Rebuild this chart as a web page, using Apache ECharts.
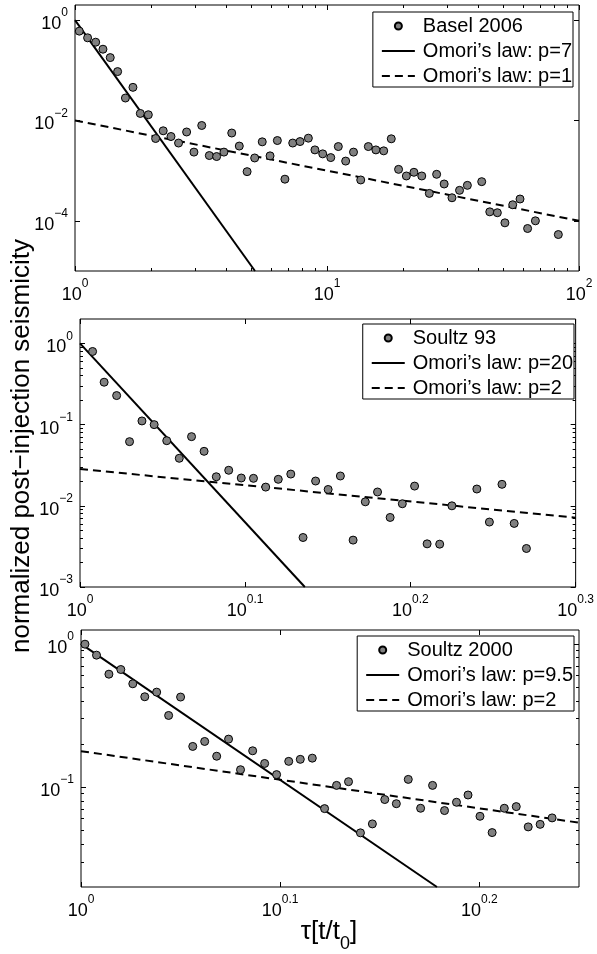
<!DOCTYPE html>
<html>
<head>
<meta charset="utf-8">
<script src="https://cdn.jsdelivr.net/npm/echarts@6/dist/echarts.min.js"></script>
<style>
  html, body { margin: 0; padding: 0; background: #fff; }
  #chart { width: 597px; height: 954px; }
</style>
</head>
<body>
<div id="chart"></div>
<script>
// Basel 2006
var baselX = [1.040, 1.122, 1.208, 1.291, 1.380, 1.476, 1.585, 1.698, 1.816, 1.954,
  2.089, 2.239, 2.404, 2.576, 2.773, 2.965, 3.184, 3.412, 3.648, 3.899,
  4.188, 4.487, 4.819, 5.164, 5.534, 5.943, 6.353, 6.808, 7.311, 7.816,
  8.433, 8.954, 9.616, 10.35, 11.09, 11.86, 12.74, 13.61, 14.59, 15.63,
  16.79, 17.99, 19.23, 20.65, 22.13, 23.77, 25.47, 27.23, 29.17, 31.33,
  33.57, 36.06, 41.11, 44.26, 47.42, 50.82, 54.58, 58.34, 62.52, 67.14, 82.79];
var baselY = [0.603, 0.444, 0.363, 0.263, 0.179, 0.0942, 0.0280, 0.0457, 0.0138, 0.0130,
  0.00437, 0.00622, 0.00479, 0.00355, 0.00589, 0.00234, 0.00794, 0.00200, 0.00191, 0.00234,
  0.00562, 0.00309, 0.000955, 0.00179, 0.00375, 0.00197, 0.00398, 0.000676, 0.00355, 0.00380,
  0.00444, 0.00259, 0.00216, 0.00182, 0.00302, 0.00155, 0.00234, 0.000652, 0.00302, 0.00259,
  0.00248, 0.00431, 0.00106, 0.000783, 0.000927, 0.000783, 0.000352, 0.000845, 0.000542, 0.000288,
  0.000405, 0.000509, 0.000603, 0.000151, 0.000145, 0.0000912, 0.000209, 0.000272, 0.0000703, 0.0001, 0.0000533];
var baselP7 = [[1, 1], [5.18, 1e-5]];
var baselP1 = [[1, 1e-2], [100, 1e-4]];
var baselXTicks = [1, 10, 100];
var baselXMinor = [2, 3, 4, 5, 6, 7, 8, 9, 20, 30, 40, 50, 60, 70, 80, 90];
var baselYTicks = [1e-4, 1e-2, 1];

// Soultz 93
var soultz93X = [1.0177, 1.0342, 1.0524, 1.0715, 1.0902, 1.1089, 1.1285, 1.1484, 1.1682, 1.1888,
  1.2092, 1.2303, 1.2520, 1.2735, 1.2954, 1.3183, 1.3415, 1.3646, 1.3887, 1.4132,
  1.4375, 1.4632, 1.4883, 1.5139, 1.5407, 1.5671, 1.5941, 1.6222, 1.6509, 1.6792,
  1.7386, 1.7693, 1.8006, 1.8315, 1.8630];
var soultz93Y = [0.796, 0.333, 0.228, 0.0617, 0.111, 0.100, 0.0634, 0.0385, 0.0711, 0.0469,
  0.0228, 0.0274, 0.0220, 0.0218, 0.0170, 0.0212, 0.0246, 0.00407, 0.0202, 0.0159,
  0.0233, 0.00378, 0.0112, 0.0148, 0.00719, 0.0106, 0.0175, 0.00340, 0.00337, 0.0100,
  0.0161, 0.00631, 0.0184, 0.00607, 0.00298];
var soultz93P20 = [[1, 1], [1.368, 1e-3]];
var soultz93P2 = [[1, 0.0284], [1.9953, 0.00714]];
var soultz93XTicks = [1, 1.2589, 1.5849, 1.9953];
var soultz93YTicks = [1e-3, 1e-2, 1e-1, 1];
var soultz93YMinor = [0.002, 0.003, 0.004, 0.005, 0.006, 0.007, 0.008, 0.009,
  0.02, 0.03, 0.04, 0.05, 0.06, 0.07, 0.08, 0.09,
  0.2, 0.3, 0.4, 0.5, 0.6, 0.7, 0.8, 0.9];

// Soultz 2000
var soultz00X = [1.0046, 1.0181, 1.0328, 1.0471, 1.0617, 1.0765, 1.0914, 1.1066, 1.1220, 1.1379,
  1.1537, 1.1698, 1.1860, 1.2025, 1.2195, 1.2365, 1.2537, 1.2714, 1.2885, 1.3065,
  1.3252, 1.3437, 1.3624, 1.3813, 1.4005, 1.4207, 1.4398, 1.4598, 1.4808, 1.5014,
  1.5223, 1.5435, 1.5642, 1.5860, 1.6084, 1.6312, 1.6539, 1.6769, 1.7002, 1.7239];
var soultz00Y = [0.995, 0.834, 0.614, 0.662, 0.526, 0.427, 0.460, 0.316, 0.425, 0.192,
  0.208, 0.164, 0.216, 0.132, 0.179, 0.146, 0.122, 0.151, 0.156, 0.159,
  0.0706, 0.1026, 0.1089, 0.0478, 0.0552, 0.0817, 0.0764, 0.1130, 0.0710, 0.1026,
  0.0684, 0.0782, 0.0879, 0.0624, 0.0480, 0.0710, 0.0729, 0.0526, 0.0548, 0.0608];
var soultz00P95 = [[1, 1], [1.509, 0.02]];
var soultz00P2 = [[1, 0.178], [1.7783, 0.0563]];
var soultz00XTicks = [1, 1.2589, 1.5849];
var soultz00YTicks = [0.1, 1];
var soultz00YMinor = [0.03, 0.04, 0.05, 0.06, 0.07, 0.08, 0.09,
  0.2, 0.3, 0.4, 0.5, 0.6, 0.7, 0.8, 0.9];

var fontName = 'Liberation Sans';
var supRich = {
  b: { fontSize: 18, lineHeight: 26, verticalAlign: 'bottom', fontFamily: fontName, color: '#000' },
  s: { fontSize: 12, lineHeight: 12, verticalAlign: 'top', fontFamily: fontName, color: '#000' }
};

function powLabel(v) {
  var e = Math.round(Math.log10(v) * 10) / 10;
  return '{b|10}{s|' + String(e).replace('-', '\u2212') + '}';
}

function zip(xs, ys) {
  return xs.map(function (x, i) { return [x, ys[i]]; });
}

var grids = [], xAxes = [], yAxes = [], series = [], legends = [];

function addPanel(p) {
  var g = grids.length;
  grids.push({
    left: p.box[0], top: p.box[1], width: p.box[2], height: p.box[3],
    show: true, borderColor: '#000', borderWidth: 1, backgroundColor: '#fff'
  });
  function ax(pos, range, ticks, len, label) {
    return {
      type: 'log', gridIndex: g, position: pos, min: range[0], max: range[1],
      axisLine: { show: false },
      splitLine: { show: false },
      axisTick: { show: true, inside: true, length: len, customValues: ticks, lineStyle: { color: '#000', width: 1 } },
      axisLabel: label ? { show: true, customValues: ticks, formatter: powLabel, rich: supRich, margin: 7 } : { show: false }
    };
  }
  var xi = xAxes.length, yi = yAxes.length;
  xAxes.push(ax('bottom', p.xRange, p.xTicks, 5, true), ax('top', p.xRange, p.xTicks, 5, false));
  if (p.xMinor) xAxes.push(ax('bottom', p.xRange, p.xMinor, 3, false), ax('top', p.xRange, p.xMinor, 3, false));
  yAxes.push(ax('left', p.yRange, p.yTicks, 5, true), ax('right', p.yRange, p.yTicks, 5, false));
  if (p.yMinor) yAxes.push(ax('left', p.yRange, p.yMinor, 3, false), ax('right', p.yRange, p.yMinor, 3, false));

  series.push({
    type: 'scatter', name: p.names[0], xAxisIndex: xi, yAxisIndex: yi,
    data: zip(p.x, p.y), symbolSize: 8, z: 5,
    itemStyle: { color: '#808080', borderColor: '#000', borderWidth: 1, opacity: 1 }
  });
  series.push({
    type: 'line', name: p.names[1], xAxisIndex: xi, yAxisIndex: yi,
    data: p.solid, symbol: 'none', z: 3,
    itemStyle: { color: 'rgba(0,0,0,0)' },
    lineStyle: { color: '#000', width: 2, type: 'solid' }
  });
  series.push({
    type: 'line', name: p.names[2], xAxisIndex: xi, yAxisIndex: yi,
    data: p.dashed, symbol: 'none', z: 3,
    itemStyle: { color: 'rgba(0,0,0,0)' },
    lineStyle: { color: '#000', width: 2, type: [8, 5] }
  });
  legends.push({
    data: [
      { name: p.names[0], icon: 'circle' },
      { name: p.names[1], itemStyle: { opacity: 0 } },
      { name: p.names[2], itemStyle: { opacity: 0 } }
    ],
    orient: 'vertical', right: p.legendPos[0], top: p.legendPos[1],
    backgroundColor: '#fff', borderColor: '#000', borderWidth: 1,
    padding: [4, 1, 1, 8], itemGap: 5, itemWidth: 33, itemHeight: 7,
    selectedMode: false,
    textStyle: { fontSize: 20, lineHeight: 20, fontFamily: fontName, color: '#000', padding: [0, 0, 0, 3] }
  });
}

addPanel({
  box: [75, 5, 504, 266], xRange: [1, 100], yRange: [1e-5, 2],
  xTicks: baselXTicks, xMinor: baselXMinor, yTicks: baselYTicks,
  x: baselX, y: baselY, solid: baselP7, dashed: baselP1,
  names: ['Basel 2006', 'Omori\u2019s law: p=7', 'Omori\u2019s law: p=1'],
  legendPos: [24, 12]
});
addPanel({
  box: [80, 319, 499, 268], xRange: [1, 1.9953], yRange: [1e-3, 2],
  xTicks: soultz93XTicks, yTicks: soultz93YTicks, yMinor: soultz93YMinor,
  x: soultz93X, y: soultz93Y, solid: soultz93P20, dashed: soultz93P2,
  names: ['Soultz 93', 'Omori\u2019s law: p=20', 'Omori\u2019s law: p=2'],
  legendPos: [23, 324]
});
addPanel({
  box: [81, 630, 498, 257], xRange: [1, 1.7783], yRange: [0.02, 1.25],
  xTicks: soultz00XTicks, yTicks: soultz00YTicks, yMinor: soultz00YMinor,
  x: soultz00X, y: soultz00Y, solid: soultz00P95, dashed: soultz00P2,
  names: ['Soultz 2000', 'Omori\u2019s law: p=9.5', 'Omori\u2019s law: p=2'],
  legendPos: [23, 636]
});

var chart = echarts.init(document.getElementById('chart'));
chart.setOption({
  animation: false,
  backgroundColor: '#fff',
  grid: grids,
  xAxis: xAxes,
  yAxis: yAxes,
  legend: legends,
  series: series,
  graphic: [
    {
      type: 'text', x: 22, y: 446, rotation: Math.PI / 2,
      style: {
        text: 'normalized post\u2212injection seismicity',
        fontSize: 26, fontFamily: fontName, fill: '#000',
        align: 'center', verticalAlign: 'middle', textAlign: 'center', textVerticalAlign: 'middle'
      }
    },
    {
      type: 'text', x: 329, y: 934,
      style: {
        text: '{n|\u03c4[t/t}{d|0}{n|]}',
        rich: {
          n: { fontSize: 26, lineHeight: 30, verticalAlign: 'top', fontFamily: fontName, fill: '#000' },
          d: { fontSize: 18, lineHeight: 22, verticalAlign: 'top', padding: [16, 0, 0, 0], fontFamily: fontName, fill: '#000' }
        },
        align: 'center', verticalAlign: 'middle', textAlign: 'center', textVerticalAlign: 'middle'
      }
    }
  ]
});
</script>
</body>
</html>
